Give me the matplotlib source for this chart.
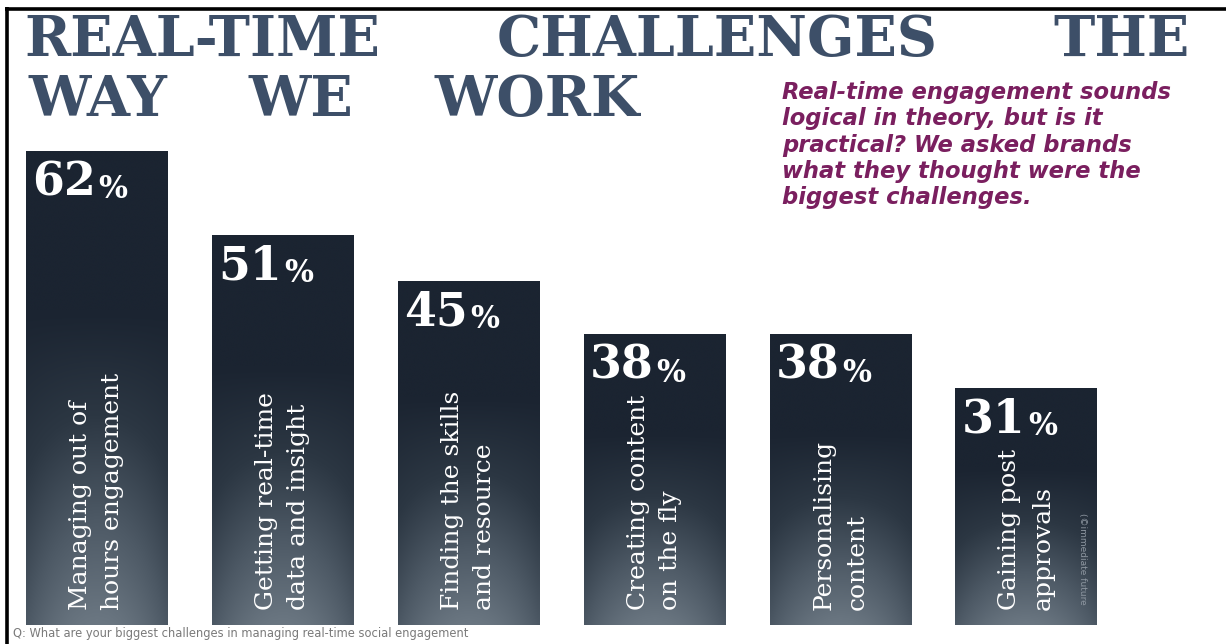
import numpy as np
import matplotlib
matplotlib.use("Agg")
import matplotlib.pyplot as plt
from matplotlib.colors import LinearSegmentedColormap
from matplotlib.lines import Line2D

# --- data -------------------------------------------------------------
categories = [
    "Managing out of\nhours engagement",
    "Getting real-time\ndata and insight",
    "Finding the skills\nand resource",
    "Creating content\non the fly",
    "Personalising\ncontent",
    "Gaining post\napprovals",
]
values = [62, 51, 45, 38, 38, 31]

title_line1 = ["REAL-TIME", "CHALLENGES", "THE"]
title_line2 = ["WAY", "WE", "WORK"]
subtitle = [
    "Real-time engagement sounds",
    "logical in theory, but is it",
    "practical? We asked brands",
    "what they thought were the",
    "biggest challenges.",
]
footnote = "Q: What are your biggest challenges in managing real-time social engagement"
credit = "(\u00a9immediate future"

# --- figure -----------------------------------------------------------
W, H = 1226, 644
fig = plt.figure(figsize=(W / 100, H / 100), dpi=100, facecolor="white")
renderer = fig.canvas.get_renderer()


def fx(px):
    return px / W


def fy(py):
    return 1 - py / H


# plotting area: full width, baseline of bars 625 px from top
ax = fig.add_axes([0, fy(625), 1, 625 / H])
ax.set_xlim(-0.519, 6.073)
ax.set_ylim(0, 81.7)
ax.axis("off")

bar_w = 0.763
x = np.arange(len(values))

bar_cmap = LinearSegmentedColormap.from_list(
    "slate", ["#1b2431", "#2c3743", "#4d5965", "#6b7782"])

# vertical/horizontal shading sampled on a grid and clipped to each bar
ny, nx = 200, 60
yy = np.linspace(0, 1, ny)[:, None]          # 0 = bottom, 1 = top
xx = np.linspace(-1, 1, nx)[None, :]
vert = np.clip((0.66 - yy) / 0.66, 0, 1) ** 1.0
horiz = 1 - 0.35 * np.abs(xx) ** 2
shade = vert * horiz

bars = ax.bar(x, values, width=bar_w, color="#1b2431", linewidth=0, zorder=1)
for rect in bars:
    x0, y0 = rect.get_x(), rect.get_y()
    w, h = rect.get_width(), rect.get_height()
    im = ax.imshow(shade, cmap=bar_cmap, vmin=0, vmax=1, origin="lower",
                   extent=(x0, x0 + w, y0, y0 + h), aspect="auto",
                   interpolation="bicubic", zorder=2)
    im.set_clip_path(rect)

serif = "DejaVu Serif"

# value labels in the top-left corner of each bar
for xi, v in zip(x, values):
    left = xi - bar_w / 2
    num = ax.annotate(f"{v}", xy=(left, v), xytext=(4.5, -6),
                      textcoords="offset points", ha="left", va="top",
                      fontsize=33, fontweight="bold", family=serif,
                      color="white", zorder=4)
    ax.annotate("%", xy=(1, 0), xycoords=num, xytext=(2, 0),
                textcoords="offset points", ha="left", va="bottom",
                fontsize=22, fontweight="bold", family=serif,
                color="white", zorder=4)

# category labels running up each bar
for xi, cat in zip(x, categories):
    ax.text(xi, 1.9, cat, rotation=90, ha="center", va="bottom",
            multialignment="left", fontsize=18, family=serif,
            color="white", linespacing=1.55, zorder=4)

ax.text(5.30, 14.6, credit, rotation=270, ha="center", va="top",
        fontsize=6.5, family="DejaVu Sans", color="#8d96a0", zorder=4)

# --- title: words spread evenly between a left and right edge ------------
title_color = "#3d4f68"
title_rows = [
    (title_line1, 24, 1190, 56),
    (title_line2, 28, 640, 116),
]
for words, left, right, base in title_rows:
    texts = [fig.text(0, fy(base), w_, ha="left", va="baseline",
                      fontsize=40, fontweight="bold", family=serif,
                      color=title_color) for w_ in words]
    widths = [t.get_window_extent(renderer).width for t in texts]
    gap = (right - left - sum(widths)) / (len(words) - 1)
    pos = left
    for t, wd in zip(texts, widths):
        t.set_x(fx(pos))
        pos += wd + gap

# --- subtitle -----------------------------------------------------------
for i, line in enumerate(subtitle):
    fig.text(fx(782), fy(99 + 26.3 * i), line, ha="left", va="baseline",
             fontsize=16.3, fontweight="bold", fontstyle="oblique",
             family="DejaVu Sans", color="#7a1f5f")

# --- footnote -----------------------------------------------------------
fig.text(fx(13), fy(637), footnote, ha="left", va="baseline",
         fontsize=8.3, family="DejaVu Sans", color="#7a7a7a")

# frame lines along the top and left edges
fig.add_artist(Line2D([fx(5), 1], [fy(8.5), fy(8.5)], transform=fig.transFigure,
                      color="black", lw=2.6, solid_capstyle="butt"))
fig.add_artist(Line2D([fx(6.5), fx(6.5)], [fy(7), 0], transform=fig.transFigure,
                      color="black", lw=2.6, solid_capstyle="butt"))

fig.savefig("out.png", dpi=100, facecolor="white")
